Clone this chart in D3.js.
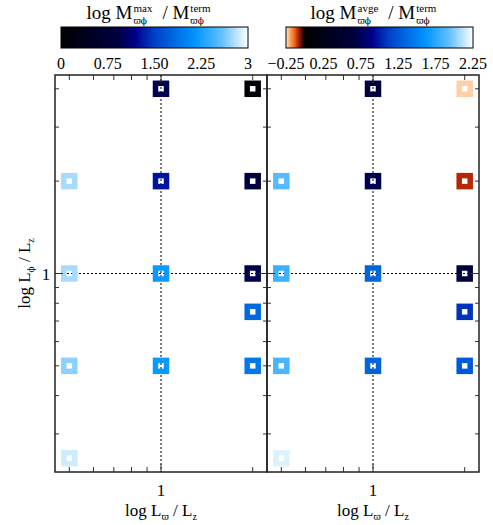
<!DOCTYPE html>
<html><head><meta charset="utf-8">
<script src="https://cdn.jsdelivr.net/npm/d3@7"></script>
<style>
html,body{margin:0;padding:0;background:#fff;}
svg text{font-family:"Liberation Serif","DejaVu Serif",serif;fill:#000;}
svg text.gr, svg tspan.gr{font-family:"DejaVu Serif",serif;fill:#000;}
</style></head>
<body><svg id="c" width="493" height="525"></svg>
<script>
// ---- data ----
const xVals = [1, 2, 0.5, 1, 2, 0.5, 1, 2, 2, 0.5, 1, 2, 0.5];          // L_varpi / L_z
const yVals = [4, 4, 2, 2, 2, 1, 1, 1, 0.75, 0.5, 0.5, 0.5, 0.25];      // L_phi / L_z
const maxVals  = [0.96, 0.12, 2.76, 1.29, 0.87, 2.76, 2.2, 0.96, 1.82, 2.69, 2.2, 1.93, 2.87];
const avgeVals = [0.65, -0.23, 1.90, 0.72, -0.09, 1.81, 1.33, 0.65, 1.08, 1.85, 1.33, 1.27, 2.18];
const maxTicks  = [0, 0.75, 1.5, 2.25, 3];
const maxTickLabels = ["0", "0.75", "1.50", "2.25", "3"];
const avgeTicks = [-0.25, 0.25, 0.75, 1.25, 1.75, 2.25];
const avgeTickLabels = ["\u22120.25", "0.25", "0.75", "1.25", "1.75", "2.25"];
const xMinorTicks = [0.5, 0.6, 0.7, 0.8, 0.9, 2];
const yMinorTicks = [0.3, 0.4, 0.5, 0.6, 0.7, 0.8, 0.9, 2, 3, 4];
const majorTick = 1;

// ---- colours ----
const blueRamp = d3.scaleLinear()
  .domain([0, 0.3, 0.4, 0.5, 0.72, 0.86, 1])
  .range(['#000000', '#000040', '#00008c', '#0040c8', '#0096ff', '#64c0ff', '#ffffff'])
  .interpolate(d3.interpolateRgb).clamp(true);
const redRamp = d3.scaleLinear()
  .domain([0, 0.16, 0.34, 0.52, 0.79, 1])
  .range(['#000000', '#501000', '#b02000', '#e86010', '#ffa860', '#ffe8d0'])
  .interpolate(d3.interpolateRgb).clamp(true);
const colorMax = v => blueRamp(v / 3);
const colorAvge = v => v >= 0 ? blueRamp(v / 2.25) : redRamp(-v / 0.25);

const svg = d3.select('#c');
const yTop = 75, yBottom = 472;
const panels = [
  {x0: 55, x1: 267, vals: maxVals, color: colorMax},
  {x0: 267, x1: 479, vals: avgeVals, color: colorAvge}
];
const yS = d3.scaleLog().domain([Math.pow(10, -0.647), Math.pow(10, 0.647)]).range([yBottom, yTop]);

panels.forEach((p, pi) => {
  const xS = d3.scaleLog().domain([Math.pow(10, -0.348), Math.pow(10, 0.348)]).range([p.x0, p.x1]);
  const g = svg.append('g');
  // dotted reference lines
  g.append('line').attr('x1', xS(1)).attr('x2', xS(1)).attr('y1', yTop).attr('y2', yBottom)
    .attr('stroke', '#000').attr('stroke-width', 1).attr('stroke-dasharray', '2,2');
  g.append('line').attr('x1', p.x0).attr('x2', p.x1).attr('y1', yS(1)).attr('y2', yS(1))
    .attr('stroke', '#000').attr('stroke-width', 1).attr('stroke-dasharray', '2,2');
  // markers
  g.selectAll('rect.m').data(xVals.map((x, i) => ({x, y: yVals[i], v: p.vals[i]}))).enter()
    .append('rect').attr('class', 'm')
    .attr('x', d => xS(d.x) - 5.5).attr('y', d => yS(d.y) - 5.5)
    .attr('width', 11).attr('height', 11)
    .attr('fill', 'none').attr('stroke', d => p.color(d.v)).attr('stroke-width', 5.5);
  // ticks (inward, all four sides)
  const tk = g.append('g').attr('stroke', '#333').attr('stroke-width', 1);
  const xt = xMinorTicks.map(v => ({v, len: 5})).concat([{v: majorTick, len: 8}]);
  xt.forEach(t => {
    tk.append('line').attr('x1', xS(t.v)).attr('x2', xS(t.v)).attr('y1', yBottom).attr('y2', yBottom - t.len);
    tk.append('line').attr('x1', xS(t.v)).attr('x2', xS(t.v)).attr('y1', yTop).attr('y2', yTop + t.len);
  });
  const yt = yMinorTicks.map(v => ({v, len: 4})).concat([{v: majorTick, len: 8}]);
  yt.forEach(t => {
    tk.append('line').attr('y1', yS(t.v)).attr('y2', yS(t.v)).attr('x1', p.x0).attr('x2', p.x0 + t.len);
    tk.append('line').attr('y1', yS(t.v)).attr('y2', yS(t.v)).attr('x1', p.x1).attr('x2', p.x1 - t.len);
  });
  // frame
  g.append('rect').attr('x', p.x0).attr('y', yTop).attr('width', p.x1 - p.x0).attr('height', yBottom - yTop)
    .attr('fill', 'none').attr('stroke', '#222').attr('stroke-width', 1.5);
  // x tick label & axis label
  g.append('text').attr('x', xS(1)).attr('y', 496).attr('text-anchor', 'middle').style('font-size', '17px').text('1');
  const xl = g.append('text').attr('x', xS(1)).attr('y', 516).attr('text-anchor', 'middle').style('font-size', '17px');
  xl.append('tspan').text('log L');
  xl.append('tspan').attr('class', 'gr').attr('baseline-shift', '-4').style('font-size', '9px').text('\u03D6');
  xl.append('tspan').text(' / L');
  xl.append('tspan').attr('baseline-shift', '-4').style('font-size', '10px').text('z');
});

// y tick label and axis label
svg.append('text').attr('x', 46).attr('y', yS(1) + 6).attr('text-anchor', 'middle').style('font-size', '17px').text('1');
const yl = svg.append('text').attr('transform', `translate(30,${yS(1)}) rotate(-90)`)
  .attr('text-anchor', 'middle').style('font-size', '17px');
yl.append('tspan').text('log L');
yl.append('tspan').attr('class', 'gr').attr('baseline-shift', '-4').style('font-size', '9px').text('\u03D5');
yl.append('tspan').text(' / L');
yl.append('tspan').attr('baseline-shift', '-4').style('font-size', '10px').text('z');

// colorbars
const defs = svg.append('defs');
function colorbar(id, x0, x1, domain, colorFn, ticks, labels, supText) {
  const cs = d3.scaleLinear().domain(domain).range([x0, x1]);
  const grad = defs.append('linearGradient').attr('id', id).attr('x1', '0%').attr('x2', '100%');
  d3.range(0, 101).forEach(i => {
    const v = domain[0] + (domain[1] - domain[0]) * i / 100;
    grad.append('stop').attr('offset', i + '%').attr('stop-color', colorFn(v));
  });
  svg.append('rect').attr('x', x0).attr('y', 27).attr('width', x1 - x0).attr('height', 21)
    .attr('fill', `url(#${id})`).attr('stroke', '#000').attr('stroke-width', 1);
  ticks.forEach((t, i) => {
    svg.append('text').attr('x', cs(t)).attr('y', 69).attr('text-anchor', 'middle')
      .style('font-size', '16px').text(labels[i]);
  });
  // title
  const tg = svg.append('g');
  let x = 0;
  const a = tg.append('text').attr('x', x).attr('y', 19).style('font-size', '19px').text('log M');
  x += a.node().getComputedTextLength() + 1;
  const s1 = tg.append('text').attr('x', x).attr('y', 12).style('font-size', '11px').text(supText);
  const b1 = tg.append('text').attr('class', 'gr').attr('x', x).attr('y', 24).style('font-size', '9px').text('\u03D6\u03D5');
  x += Math.max(s1.node().getComputedTextLength(), b1.node().getComputedTextLength()) + 10;
  const c = tg.append('text').attr('x', x).attr('y', 19).style('font-size', '19px').text('/ M');
  x += c.node().getComputedTextLength() + 1;
  const s2 = tg.append('text').attr('x', x).attr('y', 12).style('font-size', '11px').text('term');
  const b2 = tg.append('text').attr('class', 'gr').attr('x', x).attr('y', 24).style('font-size', '9px').text('\u03D6\u03D5');
  x += Math.max(s2.node().getComputedTextLength(), b2.node().getComputedTextLength());
  tg.attr('transform', `translate(${(x0 + x1) / 2 - x / 2 - 6},0)`);
}
colorbar('gmax', 61, 248, [0, 3], colorMax, maxTicks, maxTickLabels, 'max');
colorbar('gavg', 286, 473, [-0.25, 2.25], colorAvge, avgeTicks, avgeTickLabels, 'avge');
</script></body></html>
